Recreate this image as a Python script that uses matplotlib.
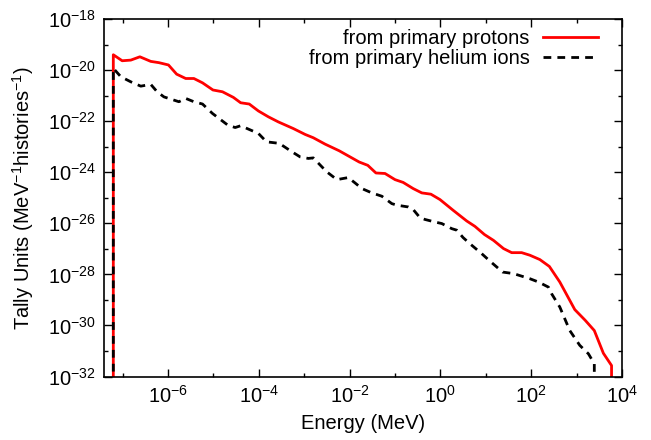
import numpy as np
import matplotlib
matplotlib.use("Agg")
import matplotlib.pyplot as plt
from matplotlib.ticker import FixedLocator, FixedFormatter, NullFormatter

plt.rcParams['font.family'] = ['Liberation Sans', 'DejaVu Sans']
plt.rcParams['mathtext.fontset'] = 'custom'
plt.rcParams['mathtext.rm'] = 'Liberation Sans'
plt.rcParams['mathtext.it'] = 'Liberation Sans:italic'
plt.rcParams['mathtext.default'] = 'regular'

# log10(Energy / MeV) and log10(tally)
proton_logE = [-7.205, -7.205, -7.01, -6.82, -6.62, -6.38, -6.20, -5.99, -5.81, -5.61, -5.43,
               -5.24, -5.01, -4.80, -4.56, -4.40, -4.21, -4.01, -3.79, -3.57, -3.24,
               -2.98, -2.80, -2.54, -2.23, -1.79, -1.60, -1.42, -1.22, -1.00, -0.82,
               -0.60, -0.41, -0.21, -0.01, 0.28, 0.58, 0.76, 0.97, 1.17, 1.39,
               1.57, 1.79, 1.97, 2.19, 2.40, 2.63, 2.96, 3.19, 3.39, 3.59, 3.77, 3.77]
proton_logY = [-40.0, -19.40, -19.635, -19.61, -19.48, -19.66, -19.71, -19.80, -20.16, -20.33, -20.33,
               -20.50, -20.78, -20.85, -21.07, -21.28, -21.33, -21.60, -21.83, -22.03, -22.29,
               -22.52, -22.65, -22.90, -23.16, -23.60, -23.73, -24.03, -24.05, -24.29, -24.40,
               -24.64, -24.81, -24.86, -25.07, -25.49, -25.91, -26.12, -26.44, -26.67, -26.99,
               -27.15, -27.15, -27.25, -27.42, -27.69, -28.30, -29.38, -29.80, -30.20, -31.09, -31.57, -40.0]

helium_logE = [-7.205, -7.205, -7.04, -6.82, -6.60, -6.38, -6.24, -6.09, -5.76, -5.61, -5.43,
               -5.24, -5.02, -4.68, -4.52, -4.40, -4.18, -4.01, -3.83, -3.55, -3.27,
               -3.09, -2.91, -2.80, -2.61, -2.50, -2.28, -2.03, -1.88, -1.73, -1.51,
               -1.29, -1.07, -0.96, -0.71, -0.60, -0.45, -0.34, -0.12, 0.03, 0.25,
               0.36, 0.50, 0.65, 0.91, 1.09, 1.37, 1.61, 1.97, 2.16, 2.38,
               2.45, 2.63, 2.85, 3.07, 3.26, 3.39, 3.39]
helium_logY = [-40.0, -19.93, -20.26, -20.46, -20.63, -20.56, -20.85, -21.05, -21.24, -21.11, -21.24,
               -21.33, -21.70, -22.16, -22.25, -22.18, -22.35, -22.48, -22.81, -22.87, -23.20,
               -23.40, -23.46, -23.44, -23.79, -23.99, -24.29, -24.21, -24.42, -24.64, -24.81,
               -24.94, -25.23, -25.29, -25.36, -25.46, -25.78, -25.85, -25.95, -26.01, -26.21,
               -26.27, -26.56, -26.80, -27.19, -27.48, -27.91, -27.97, -28.17, -28.30, -28.50,
               -28.76, -29.28, -30.20, -30.78, -31.11, -31.50, -40.0]

xtick_vals = [1e-6, 1e-4, 1e-2, 1e0, 1e2, 1e4]
xtick_labels = ['$10^{-6}$', '$10^{-4}$', '$10^{-2}$', '$10^{0}$', '$10^{2}$', '$10^{4}$']
ytick_vals = [1e-18, 1e-20, 1e-22, 1e-24, 1e-26, 1e-28, 1e-30, 1e-32]
ytick_labels = ['$10^{-18}$', '$10^{-20}$', '$10^{-22}$', '$10^{-24}$', '$10^{-26}$',
                '$10^{-28}$', '$10^{-30}$', '$10^{-32}$']
xminor_vals = [1e-7, 1e-5, 1e-3, 1e-1, 1e1, 1e3]
yminor_vals = [1e-19, 1e-21, 1e-23, 1e-25, 1e-27, 1e-29, 1e-31]

FS = 14.5

fig = plt.figure(figsize=(6.51, 4.40), dpi=100)
ax = fig.add_axes([104/651, 1 - 376.5/440, (622-104)/651, (376.5-19)/440])

pE = 10.0 ** np.array(proton_logE)
pY = 10.0 ** np.array(proton_logY)
hE = 10.0 ** np.array(helium_logE)
hY = 10.0 ** np.array(helium_logY)

ax.plot(pE, pY, color='#ff0000', lw=2.0, label='from primary protons')
ax.plot(hE, hY, color='black', lw=2.0, dashes=(2.8, 2.2), label='from primary helium ions')

ax.set_xscale('log')
ax.set_yscale('log')
ax.set_xlim(10 ** -7.41, 1e4)
ax.set_ylim(1e-32, 1e-18)

ax.xaxis.set_major_locator(FixedLocator(xtick_vals))
ax.xaxis.set_major_formatter(FixedFormatter(xtick_labels))
ax.xaxis.set_minor_locator(FixedLocator(xminor_vals))
ax.xaxis.set_minor_formatter(NullFormatter())
ax.yaxis.set_major_locator(FixedLocator(ytick_vals))
ax.yaxis.set_major_formatter(FixedFormatter(ytick_labels))
ax.yaxis.set_minor_locator(FixedLocator(yminor_vals))
ax.yaxis.set_minor_formatter(NullFormatter())

ax.tick_params(which='both', direction='in', top=True, right=True, labelsize=FS, width=1.0)
ax.tick_params(which='major', length=6, pad=6)
ax.tick_params(which='minor', length=3)
for s in ax.spines.values():
    s.set_linewidth(1.2)

ax.set_xlabel('Energy (MeV)', fontsize=FS, labelpad=5)
ax.set_ylabel('Tally Units (MeV$^{-1}$histories$^{-1}$)', fontsize=FS, labelpad=8)

leg = ax.legend(loc='upper right', frameon=False, markerfirst=False, fontsize=FS,
                handlelength=2.75, handletextpad=0.65, labelspacing=0.05,
                borderpad=0.4, borderaxespad=0.0, bbox_to_anchor=(0.969, 0.995))

fig.savefig('out.png', dpi=100)
